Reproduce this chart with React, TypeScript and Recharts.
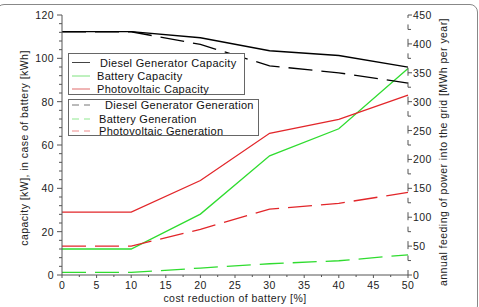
import React from 'react'
import { LineChart, Line, XAxis, YAxis } from 'recharts'

// cost reduction of battery [%]
const reduction = [0, 10, 20, 30, 40, 50]

// capacities, left axis [kW] / [kWh]
const dieselCapacity = [112.3, 112.3, 109.5, 103.5, 101.3, 95.9]
const batteryCapacity = [12.0, 12.0, 28.1, 55.0, 67.5, 95.3]
const pvCapacity = [29.0, 29.0, 43.6, 65.4, 71.8, 83.0]

// annual generation, right axis [MWh per year]
const dieselGeneration = [421, 421, 399, 362, 350, 332]
const batteryGeneration = [4.5, 4.5, 12, 19.5, 24.7, 35]
const pvGeneration = [50, 50, 79, 114, 124, 143]

const xTicks = [0, 2.5, 5, 7.5, 10, 12.5, 15, 17.5, 20, 22.5, 25, 27.5, 30, 32.5, 35, 37.5, 40, 42.5, 45, 47.5, 50]
const leftTicks = [0, 4, 8, 12, 16, 20, 24, 28, 32, 36, 40, 44, 48, 52, 56, 60, 64, 68, 72, 76, 80, 84, 88, 92, 96, 100, 104, 108, 112, 116, 120]
const rightTicks = [0, 25, 50, 75, 100, 125, 150, 175, 200, 225, 250, 275, 300, 325, 350, 375, 400, 425, 450]

const BLACK = '#000000'
const GREEN = '#2fdc2f'
const RED = '#e2262a'
const DASH = '24 9'
const FONT = '"Liberation Sans", Arial, sans-serif'

const data = reduction.map((r, i) => ({
  r,
  dieselCap: dieselCapacity[i],
  batteryCap: batteryCapacity[i],
  pvCap: pvCapacity[i],
  dieselGen: dieselGeneration[i],
  batteryGen: batteryGeneration[i],
  pvGen: pvGeneration[i],
}))

const capacityLegend = [
  { label: ' Diesel Generator Capacity', color: '#444', dashed: false },
  { label: 'Battery Capacity', color: '#7fe27f', dashed: false },
  { label: 'Photovoltaic Capacity', color: '#e06a6a', dashed: false },
]
const generationLegend = [
  { label: ' Diesel Generator Generation', color: '#777', dashed: true },
  { label: 'Battery Generation', color: '#8fe88f', dashed: true },
  { label: 'Photovoltaic Generation', color: '#ee8a8a', dashed: true },
]

const tickText = { fontFamily: FONT, fontSize: 10.5, fill: '#222', letterSpacing: 0.4 }

function BottomTick(props: any) {
  const { x, y, payload } = props
  const major = payload.value % 5 === 0
  return (
    <g>
      <line x1={x} x2={x} y1={y} y2={y + (major ? 3 : 2)} stroke="#555" strokeWidth={1} />
      {major && (
        <text x={x} y={y + 14} textAnchor="middle" {...tickText}>
          {payload.value}
        </text>
      )}
    </g>
  )
}

function LeftTick(props: any) {
  const { x, y, payload } = props
  const major = payload.value % 20 === 0
  return (
    <g>
      <line x1={x - (major ? 5 : 3)} x2={x} y1={y} y2={y} stroke="#555" strokeWidth={1} />
      {major && (
        <text x={x - 8} y={y + 4} textAnchor="end" {...tickText}>
          {payload.value}
        </text>
      )}
    </g>
  )
}

// the right axis is drawn as broken pieces around each tick
function RightTick(props: any) {
  const { x, y, payload } = props
  const major = payload.value % 50 === 0
  const top = payload.value === 450
  const bottom = payload.value === 0
  return (
    <g>
      <line x1={x} x2={x} y1={top ? y : y - 5} y2={bottom ? y : y + (major ? 3 : 0)} stroke="#555" strokeWidth={1} />
      <line x1={x} x2={x + (major ? 4 : 3)} y1={y} y2={y} stroke="#555" strokeWidth={1} />
      {major && (
        <text x={x + 5} y={y + 4} textAnchor="start" {...tickText}>
          {payload.value}
        </text>
      )}
    </g>
  )
}

function LegendBox({ items, left, top, width, height, rows, indents }: any) {
  return (
    <div
      style={{
        position: 'absolute',
        left,
        top,
        width,
        height,
        border: '1px solid #666',
        background: '#fff',
        boxSizing: 'border-box',
      }}
    >
      <svg width={width} height={height} style={{ position: 'absolute', left: -1, top: -1 }}>
        {items.map((it: any, i: number) => (
          <g key={it.label}>
            <line
              x1={4}
              x2={22}
              y1={rows[i]}
              y2={rows[i]}
              stroke={it.color}
              strokeWidth={1}
              strokeDasharray={it.dashed ? '7 5' : undefined}
            />
            <text x={indents[i]} y={rows[i] + 4} fontFamily={FONT} fontSize={11} fill="#111" letterSpacing={0.3}>
              {it.label.trim()}
            </text>
          </g>
        ))}
      </svg>
    </div>
  )
}

export default function App() {
  return (
    <div style={{ position: 'fixed', left: 0, top: 0, width: 479, height: 307, background: '#fff', overflow: 'hidden' }}>
      <div
        style={{
          position: 'absolute',
          left: -4,
          top: 4,
          width: 482,
          height: 310,
          border: '1.5px solid #888',
          borderRadius: 8,
          boxSizing: 'border-box',
        }}
      />
      <LineChart width={479} height={307} data={data} margin={{ top: 15, right: 0, bottom: 0, left: 0 }}>
        <XAxis
          dataKey="r"
          type="number"
          domain={[0, 50]}
          ticks={xTicks}
          interval={0}
          tickSize={0}
          tickMargin={0}
          tickLine={false}
          tick={<BottomTick />}
          height={32}
          axisLine={{ stroke: '#555' }}
        />
        <YAxis
          yAxisId="left"
          orientation="left"
          domain={[0, 120]}
          ticks={leftTicks}
          interval={0}
          width={62}
          tickSize={0}
          tickMargin={0}
          tickLine={false}
          tick={<LeftTick />}
          axisLine={{ stroke: '#555' }}
        />
        <YAxis
          yAxisId="right"
          orientation="right"
          domain={[0, 450]}
          ticks={rightTicks}
          interval={0}
          width={71}
          tickSize={0}
          tickMargin={0}
          tickLine={false}
          tick={<RightTick />}
          axisLine={false}
        />
        <Line yAxisId="left" dataKey="dieselCap" stroke={BLACK} strokeWidth={1.3} dot={false} isAnimationActive={false} />
        <Line yAxisId="left" dataKey="batteryCap" stroke={GREEN} strokeWidth={1.3} dot={false} isAnimationActive={false} />
        <Line yAxisId="left" dataKey="pvCap" stroke={RED} strokeWidth={1.3} dot={false} isAnimationActive={false} />
        <Line yAxisId="right" dataKey="dieselGen" stroke={BLACK} strokeWidth={1.3} strokeDasharray={DASH} dot={false} isAnimationActive={false} />
        <Line yAxisId="right" dataKey="batteryGen" stroke={GREEN} strokeWidth={1.3} strokeDasharray={DASH} dot={false} isAnimationActive={false} />
        <Line yAxisId="right" dataKey="pvGen" stroke={RED} strokeWidth={1.3} strokeDasharray={DASH} dot={false} isAnimationActive={false} />
      </LineChart>

      <LegendBox items={capacityLegend} left={68} top={53} width={177} height={42} rows={[9.5, 23, 36]} indents={[32, 29, 29]} />
      <LegendBox items={generationLegend} left={68} top={99} width={191} height={37} rows={[6, 20, 32]} indents={[37, 31, 31]} />

      <svg width={479} height={307} style={{ position: 'absolute', left: 0, top: 0, pointerEvents: 'none' }}>
        <text x={235} y={302} textAnchor="middle" fontFamily={FONT} fontSize={10.5} fill="#222" letterSpacing={0.45}>
          cost reduction of battery [%]
        </text>
        <text
          transform="translate(28, 148) rotate(-90)"
          textAnchor="middle"
          fontFamily={FONT}
          fontSize={10.5}
          fill="#222"
          letterSpacing={0.45}
        >
          capacity [kW], in case of battery [kWh]
        </text>
        <text
          transform="translate(447, 152) rotate(-90)"
          textAnchor="middle"
          fontFamily={FONT}
          fontSize={10.5}
          fill="#222"
          letterSpacing={0.45}
        >
          annual feeding of power into the grid [MWh per year]
        </text>
      </svg>
    </div>
  )
}
